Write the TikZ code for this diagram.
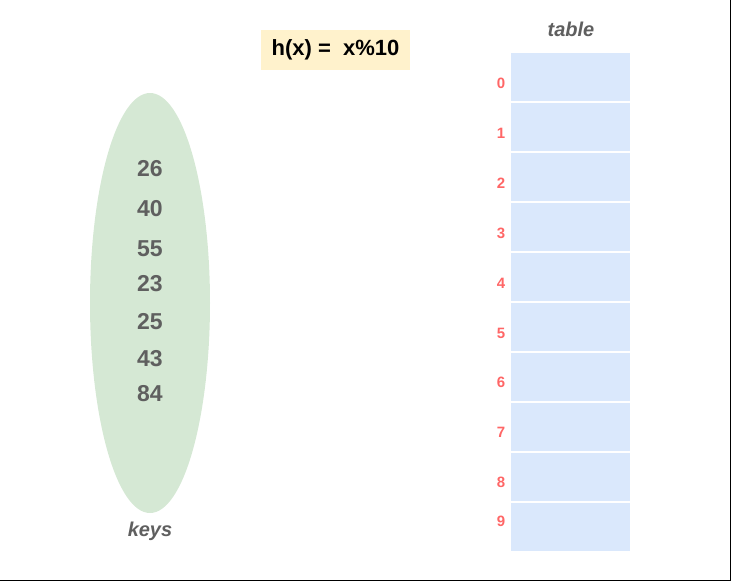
\documentclass[tikz,border=0pt]{standalone}
\usepackage{fontspec}
\setmainfont{Liberation Sans}
\usetikzlibrary{shapes,calc,positioning}
\definecolor{keyfill}{HTML}{D5E8D4}
\definecolor{cellfill}{HTML}{DAE8FC}
\definecolor{hashfill}{HTML}{FFF2CC}
\definecolor{txtgray}{HTML}{5F5F5F}
\definecolor{idxred}{HTML}{FF6666}
\tikzset{
  keyset/.style = {
    ellipse, fill=keyfill, draw=none, inner sep=0pt,
    minimum width=120pt, minimum height=420pt
  },
  keynum/.style = {
    text=txtgray, font=\fontsize{23}{27}\selectfont\bfseries
  },
  cell/.style = {
    rectangle, fill=cellfill, draw=none, inner sep=0pt,
    minimum width=119pt, minimum height=48pt
  },
  idx/.style = {
    text=idxred, font=\fontsize{15}{17}\selectfont\bfseries
  },
  caption/.style = {
    text=txtgray, font=\fontsize{20}{24}\selectfont\bfseries\itshape
  }
}

\begin{document}
\begin{tikzpicture}[x=1pt,y=-1pt]
		\useasboundingbox (0,0) rectangle (732,582);
		\draw[line width=1.5pt] (0,580.5) -- (731,580.5);
		\draw[line width=1.5pt] (730.5,0) -- (730.5,581);
		
		\node[fill=hashfill, minimum width=149pt, minimum height=40pt,
		  font=\fontsize{22}{26}\selectfont\bfseries] (hash) at (335.5,50) {h(x) =\ \ x\%10};
		
		\node[keyset] (keys) at (150,303) {};
		\node[keynum] (k26) at (150,169) {26};
		\node[keynum] (k40) at (150,209) {40};
		\node[keynum] (k55) at (150,249) {55};
		\node[keynum] (k23) at (150,284) {23};
		\node[keynum] (k25) at (150,322) {25};
		\node[keynum] (k43) at (150,359) {43};
		\node[keynum] (k84) at (150,394) {84};
		\node[caption] (lkeys) at (150,531) {keys};
%		
		\node[cell] (c0) at (570.5,77) {};
		\node[cell] (c1) at ($(c0)+(0,50)$) {};
		\node[cell] (c2) at ($(c0)+(0,100)$) {};
		\node[cell] (c3) at ($(c0)+(0,150)$) {};
		\node[cell] (c4) at ($(c0)+(0,200)$) {};
		\node[cell] (c5) at ($(c0)+(0,250)$) {};
		\node[cell] (c6) at ($(c0)+(0,300)$) {};
		\node[cell] (c7) at ($(c0)+(0,350)$) {};
		\node[cell] (c8) at ($(c0)+(0,400)$) {};
		\node[cell] (c9) at ($(c0)+(0,450)$) {};
		\node[caption] (ltable) at (571,29) {table};
		
		\node[idx] (i0) at (501,83) {0};
		\node[idx] (i1) at (501,133) {1};
		\node[idx] (i2) at (501,183) {2};
		\node[idx] (i3) at (501,233) {3};
		\node[idx] (i4) at (501,283) {4};
		\node[idx] (i5) at (501,333) {5};
		\node[idx] (i6) at (501,382) {6};
		\node[idx] (i7) at (501,432) {7};
		\node[idx] (i8) at (501,482) {8};
		\node[idx] (i9) at (501,521) {9};
	\end{tikzpicture}
\end{document}
